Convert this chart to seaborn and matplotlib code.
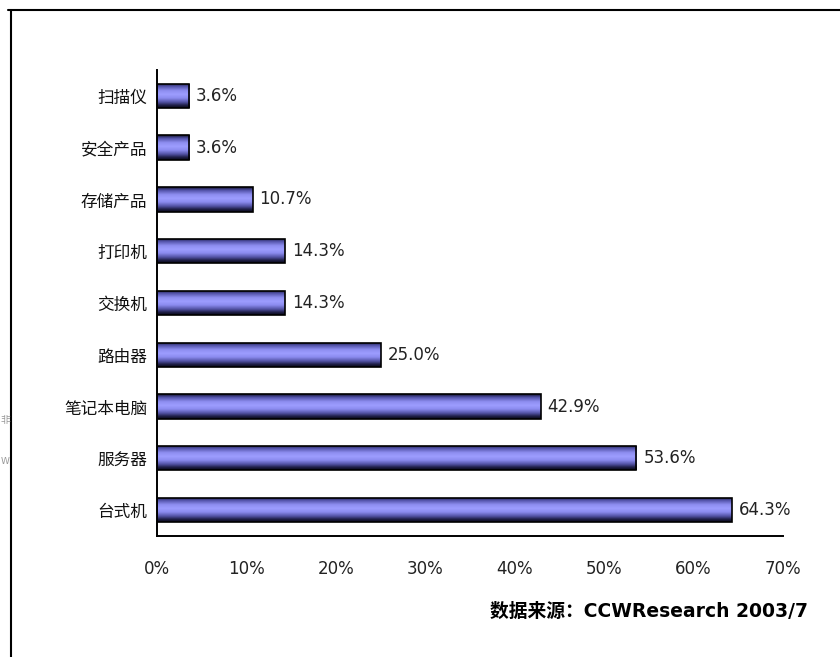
import numpy as np
import pandas as pd
import matplotlib
matplotlib.use('Agg')
import matplotlib.pyplot as plt
from matplotlib.colors import LinearSegmentedColormap
from matplotlib.lines import Line2D
import seaborn as sns

categories = ['扫描仪', '安全产品', '存储产品', '打印机', '交换机', '路由器', '笔记本电脑', '服务器', '台式机']
shares = [3.6, 3.6, 10.7, 14.3, 14.3, 25.0, 42.9, 53.6, 64.3]
xticks = [0, 10, 20, 30, 40, 50, 60, 70]
source = '数据来源：CCWResearch 2003/7'

df = pd.DataFrame({'cat': categories, 'share': shares})

sns.set_style('white')
plt.rcParams['font.family'] = ['DejaVu Sans', 'Noto Sans CJK SC']

fig = plt.figure(figsize=(8.4, 6.57), dpi=100)
ax = fig.add_axes([0.1869, 0.1842, 0.7452, 0.7093])

sns.barplot(data=df, x='share', y='cat', orient='h', color='#9999ff',
            width=0.47, edgecolor='black', linewidth=1.2, ax=ax)

# vertical shading like the old 3D-ish Excel bars
shade = LinearSegmentedColormap.from_list('shade', [
    (0.0, '#14142e'), (0.12, '#5252a8'), (0.3, '#8e8ef0'), (0.45, '#9d9dff'),
    (0.6, '#8c8cf0'), (0.78, '#4e4e9e'), (0.9, '#1e1e44'), (1.0, '#08081a')])
grad = np.linspace(0, 1, 64).reshape(-1, 1)
for p in ax.patches:
    x0, y0 = p.get_x(), p.get_y()
    w, h = p.get_width(), p.get_height()
    im = ax.imshow(grad, cmap=shade, aspect='auto', origin='upper',
                   extent=(x0, x0 + w, y0 + h, y0), zorder=p.get_zorder() - 0.1,
                   interpolation='bilinear')
    im.set_clip_path(p)
    p.set_facecolor('none')

ax.bar_label(ax.containers[0], labels=[f'{v:.1f}%' for v in shares],
             padding=5, fontsize=12, color='#222222', family='DejaVu Sans')

ax.set_xlim(0, 70)
ax.set_ylim(len(categories) - 0.5, -0.5)
ax.set_xticks(xticks)
ax.set_xticklabels([f'{t}%' for t in xticks], fontsize=12, color='#222222')
ax.set_yticks(range(len(categories)))
ax.set_yticklabels(categories, fontsize=12, color='#111111')
ax.set_yticks(np.arange(-0.5, len(categories), 1.0), minor=True)
ax.tick_params(axis='x', direction='in', length=7, width=1.2, color='black', pad=17)
ax.tick_params(axis='y', which='major', length=0, pad=7)
ax.tick_params(axis='y', which='minor', direction='in', length=7, width=1.2, color='black')
ax.set_xlabel('')
ax.set_ylabel('')
for s in ['top', 'right']:
    ax.spines[s].set_visible(False)
for s in ['left', 'bottom']:
    ax.spines[s].set_color('black')
    ax.spines[s].set_linewidth(1.4)

fig.text(0.962, 0.070, source, ha='right', va='center', fontsize=13.5,
         fontweight='bold', color='black')

# frame lines of the original screenshot
fig.add_artist(Line2D([0.0095, 1.0], [0.9848, 0.9848], color='black', lw=1.5))
fig.add_artist(Line2D([0.0131, 0.0131], [0.0, 0.9848], color='black', lw=1.5))
fig.text(0.0005, 0.36, '非', fontsize=7, color='#999999', va='center')
fig.text(0.0005, 0.297, 'W', fontsize=6.5, color='#999999', va='center')

fig.savefig('out.png', dpi=100)
